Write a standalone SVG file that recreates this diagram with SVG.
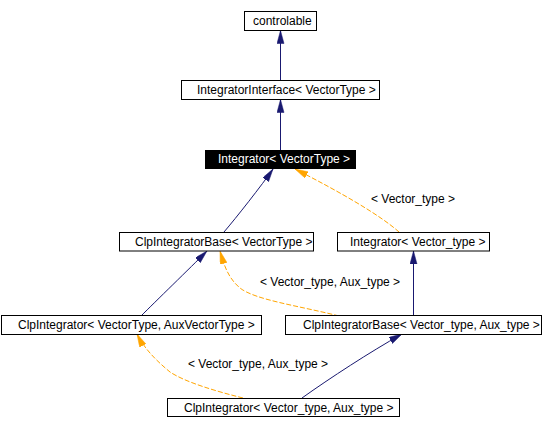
<svg xmlns="http://www.w3.org/2000/svg" width="544" height="429" viewBox="0 0 544 429">
<style>
  .box { fill: #ffffff; stroke: #000000; stroke-width: 1; }
  .cur { fill: #000000; stroke: #000000; stroke-width: 1; }
  .t { font-family: "Liberation Sans", Arial, sans-serif; font-size: 12px; fill: #000000; }
  .tw { font-family: "Liberation Sans", Arial, sans-serif; font-size: 12px; fill: #ffffff; }
  .inh { fill: none; stroke: #191970; stroke-width: 1; marker-end: url(#ab); }
  .tpl { fill: none; stroke: #ffa500; stroke-width: 1; stroke-dasharray: 5,2; marker-end: url(#ao); }
</style>
<defs>
  <marker id="ab" markerUnits="userSpaceOnUse" markerWidth="14" markerHeight="8" refX="13" refY="3.5" orient="auto">
    <path d="M0,0 L13,3.5 L0,7 z" fill="#191970" stroke="#191970" stroke-width="0.5"/>
  </marker>
  <marker id="ao" markerUnits="userSpaceOnUse" markerWidth="14" markerHeight="8" refX="13" refY="3.5" orient="auto">
    <path d="M0,0 L13,3.5 L0,7 z" fill="#ffa500" stroke="#ffa500" stroke-width="0.5"/>
  </marker>
</defs>
<rect x="0" y="0" width="544" height="429" fill="#ffffff"/>
<g id="connectors">
  <path class="inh" d="M280.5,80 L280.5,30.5"/>
  <path class="inh" d="M280.5,150 L280.5,99.5"/>
  <path class="inh" d="M224,232 C236,218 262,185 273,169"/>
  <path class="tpl" d="M399,232 C380,215 340,192 295,169"/>
  <path class="inh" d="M141,316 C155,302 190,268 207,251"/>
  <path class="tpl" d="M339,316 C300,306 255,300 240,288 C228,278 224,265 220,251"/>
  <path class="inh" d="M413.5,316 L413.5,251"/>
  <path class="tpl" d="M243,398 C215,391 185,382 170,372 C158,362 145,350 137,334"/>
  <path class="inh" d="M302,398 C330,378 370,352 402,334"/>
  <text class="t" x="371" y="203">&lt; Vector_type &gt;</text>
  <text class="t" x="260" y="286">&lt; Vector_type, Aux_type &gt;</text>
  <text class="t" x="188" y="368">&lt; Vector_type, Aux_type &gt;</text>
</g>
<g id="controlable">
  <rect class="box" x="244.5" y="11.5" width="72" height="19"/>
  <text class="t" x="253" y="25">controlable</text>
</g>
<g id="IntegratorInterface">
  <rect class="box" x="181.5" y="80.5" width="198" height="19"/>
  <text class="t" x="197" y="94">IntegratorInterface&lt; VectorType &gt;</text>
</g>
<g id="Integrator_VectorType">
  <rect class="cur" x="205.5" y="150.5" width="150" height="18"/>
  <text class="tw" x="218" y="163">Integrator&lt; VectorType &gt;</text>
</g>
<g id="ClpIntegratorBase_VectorType">
  <rect class="box" x="119.5" y="232.5" width="194" height="18.5"/>
  <text class="t" x="135" y="246">ClpIntegratorBase&lt; VectorType &gt;</text>
</g>
<g id="Integrator_Vector_type">
  <rect class="box" x="337.5" y="232.5" width="152" height="18.5"/>
  <text class="t" x="350" y="246">Integrator&lt; Vector_type &gt;</text>
</g>
<g id="ClpIntegrator_VectorType_AuxVectorType">
  <rect class="box" x="1.5" y="315.5" width="260" height="19"/>
  <text class="t" x="18" y="329">ClpIntegrator&lt; VectorType, AuxVectorType &gt;</text>
</g>
<g id="ClpIntegratorBase_Vector_type_Aux_type">
  <rect class="box" x="285.5" y="315.5" width="256" height="19"/>
  <text class="t" x="303" y="329">ClpIntegratorBase&lt; Vector_type, Aux_type &gt;</text>
</g>
<g id="ClpIntegrator_Vector_type_Aux_type">
  <rect class="box" x="167.5" y="398.5" width="232" height="18"/>
  <text class="t" x="184" y="412">ClpIntegrator&lt; Vector_type, Aux_type &gt;</text>
</g>
</svg>
